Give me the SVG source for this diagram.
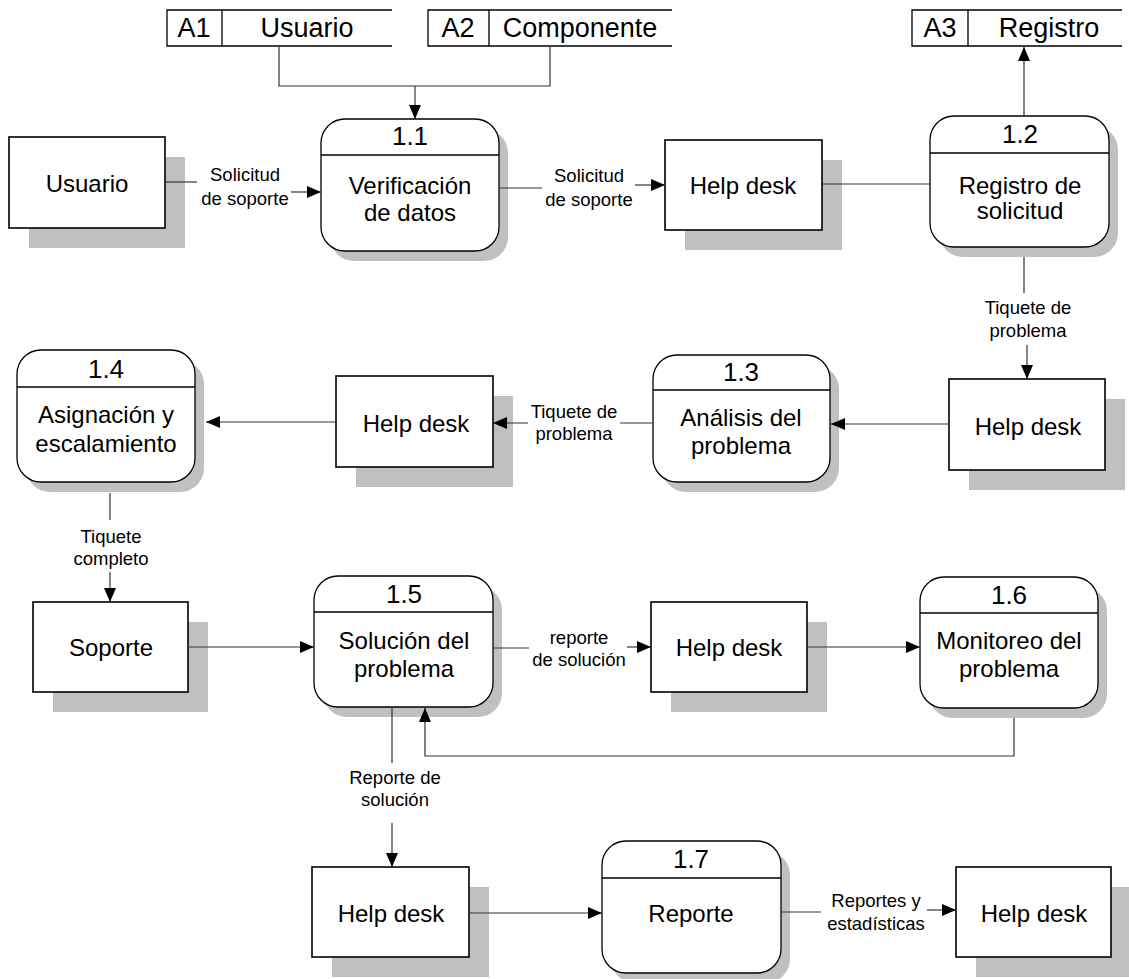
<svg xmlns="http://www.w3.org/2000/svg" width="1129" height="979" viewBox="0 0 1129 979">
<style>
.bg{fill:#ffffff}
.ent{fill:#ffffff;stroke:#000;stroke-width:1.6}
.sh{fill:#c0c0c0}
.proc{fill:#ffffff;stroke:#000;stroke-width:1.3}
.div{stroke:#000;stroke-width:1.3}
.st{fill:none;stroke:#000;stroke-width:1.3}
.t{font-family:"Liberation Sans",Arial,sans-serif;font-size:24px;fill:#000;text-anchor:middle;dominant-baseline:central}
.n{font-family:"Liberation Sans",Arial,sans-serif;font-size:26px;fill:#000;text-anchor:middle;dominant-baseline:central}
.s{font-family:"Liberation Sans",Arial,sans-serif;font-size:27px;fill:#000;text-anchor:middle;dominant-baseline:central}
.l{font-family:"Liberation Sans",Arial,sans-serif;font-size:18.5px;fill:#000;text-anchor:middle;dominant-baseline:central}
.c{fill:none;stroke:#333;stroke-width:1.2}
.a{marker-end:url(#arr)}
</style>
<defs>
<marker id="arr" markerUnits="userSpaceOnUse" markerWidth="14" markerHeight="12" refX="14" refY="6" orient="auto">
<path d="M0,0 L14,6 L0,12 z" fill="#000"/>
</marker>
</defs>
<rect class="bg" x="0" y="0" width="1129" height="979"/>

<g id="A1">
<path class="st" d="M392,10 H167 V46 H392 M222,10 V46"/>
<text class="s" x="194" y="28">A1</text>
<text class="s" x="307" y="28">Usuario</text>
</g>
<g id="A2">
<path class="st" d="M672,10 H428 V46 H672 M489,10 V46"/>
<text class="s" x="458" y="28">A2</text>
<text class="s" x="580" y="28">Componente</text>
</g>
<g id="A3">
<path class="st" d="M1122,10 H912 V46 H1122 M968,10 V46"/>
<text class="s" x="940" y="28">A3</text>
<text class="s" x="1049" y="28">Registro</text>
</g>

<g id="usuario">
<rect class="sh" x="29" y="157" width="156" height="91"/>
<rect class="ent" x="9" y="137" width="156" height="91"/>
<text class="t" x="87" y="183">Usuario</text>
</g>
<g id="p11">
<rect class="sh" x="330" y="129" width="178" height="132" rx="24"/>
<rect class="proc" x="321" y="119" width="178" height="132" rx="24"/>
<line class="div" x1="321" y1="155" x2="499" y2="155"/>
<text class="n" x="410" y="136">1.1</text>
<text class="t" x="410" y="185">Verificación</text>
<text class="t" x="410" y="212">de datos</text>
</g>
<g id="helpdesk1">
<rect class="sh" x="685" y="160" width="157" height="90"/>
<rect class="ent" x="665" y="140" width="157" height="90"/>
<text class="t" x="743" y="185">Help desk</text>
</g>
<g id="p12">
<rect class="sh" x="939" y="126" width="179" height="131" rx="24"/>
<rect class="proc" x="930" y="116" width="179" height="131" rx="24"/>
<line class="div" x1="930" y1="153" x2="1109" y2="153"/>
<text class="n" x="1020" y="134">1.2</text>
<text class="t" x="1020" y="185">Registro de</text>
<text class="t" x="1020" y="210">solicitud</text>
</g>
<g id="helpdesk2">
<rect class="sh" x="969" y="399" width="156" height="91"/>
<rect class="ent" x="949" y="379" width="156" height="91"/>
<text class="t" x="1028" y="426">Help desk</text>
</g>
<g id="p13">
<rect class="sh" x="662" y="365" width="177" height="127" rx="24"/>
<rect class="proc" x="653" y="355" width="177" height="127" rx="24"/>
<line class="div" x1="653" y1="390" x2="830" y2="390"/>
<text class="n" x="741" y="372">1.3</text>
<text class="t" x="741" y="417">Análisis del</text>
<text class="t" x="741" y="445">problema</text>
</g>
<g id="helpdesk3">
<rect class="sh" x="356" y="396" width="157" height="91"/>
<rect class="ent" x="336" y="376" width="157" height="91"/>
<text class="t" x="416" y="423">Help desk</text>
</g>
<g id="p14">
<rect class="sh" x="26" y="360" width="178" height="132" rx="24"/>
<rect class="proc" x="17" y="350" width="178" height="132" rx="24"/>
<line class="div" x1="17" y1="387" x2="195" y2="387"/>
<text class="n" x="106" y="369">1.4</text>
<text class="t" x="106" y="414">Asignación y</text>
<text class="t" x="106" y="443">escalamiento</text>
</g>
<g id="soporte">
<rect class="sh" x="53" y="622" width="155" height="90"/>
<rect class="ent" x="33" y="602" width="155" height="90"/>
<text class="t" x="111" y="647">Soporte</text>
</g>
<g id="p15">
<rect class="sh" x="323" y="586" width="179" height="131" rx="24"/>
<rect class="proc" x="314" y="576" width="179" height="131" rx="24"/>
<line class="div" x1="314" y1="612" x2="493" y2="612"/>
<text class="n" x="404" y="594">1.5</text>
<text class="t" x="404" y="640">Solución del</text>
<text class="t" x="404" y="668">problema</text>
</g>
<g id="helpdesk4">
<rect class="sh" x="671" y="622" width="156" height="90"/>
<rect class="ent" x="651" y="602" width="156" height="90"/>
<text class="t" x="729" y="647">Help desk</text>
</g>
<g id="p16">
<rect class="sh" x="929" y="587" width="178" height="131" rx="24"/>
<rect class="proc" x="920" y="577" width="178" height="131" rx="24"/>
<line class="div" x1="920" y1="613" x2="1098" y2="613"/>
<text class="n" x="1009" y="595">1.6</text>
<text class="t" x="1009" y="640">Monitoreo del</text>
<text class="t" x="1009" y="668">problema</text>
</g>
<g id="helpdesk5">
<rect class="sh" x="332" y="887" width="157" height="90"/>
<rect class="ent" x="312" y="867" width="157" height="90"/>
<text class="t" x="391" y="913">Help desk</text>
</g>
<g id="p17">
<rect class="sh" x="611" y="851" width="179" height="132" rx="24"/>
<rect class="proc" x="602" y="841" width="179" height="132" rx="24"/>
<line class="div" x1="602" y1="878" x2="781" y2="878"/>
<text class="n" x="691" y="859">1.7</text>
<text class="t" x="691" y="913">Reporte</text>
</g>
<g id="helpdesk6">
<rect class="sh" x="976" y="887" width="155" height="90"/>
<rect class="ent" x="956" y="867" width="155" height="90"/>
<text class="t" x="1034" y="913">Help desk</text>
</g>

<g id="connectors">
<path class="c" d="M279,46 V86 H550 V46"/>
<path class="c a" d="M415,86 V119"/>
<path class="c" d="M165,182 H197"/>
<path class="c a" d="M291,192 H321"/>
<text class="l" x="245" y="174">Solicitud</text>
<text class="l" x="245" y="198">de soporte</text>
<path class="c" d="M499,188 H542"/>
<path class="c a" d="M635,185 H665"/>
<text class="l" x="589" y="175">Solicitud</text>
<text class="l" x="589" y="199">de soporte</text>
<path class="c" d="M822,184 H930"/>
<path class="c a" d="M1024,116 V47"/>
<path class="c" d="M1024,257 V293"/>
<text class="l" x="1028" y="307">Tiquete de</text>
<text class="l" x="1028" y="330">problema</text>
<path class="c a" d="M1027,345 V379"/>
<path class="c a" d="M949,424 H831"/>
<path class="c" d="M653,423 H620"/>
<text class="l" x="574" y="411">Tiquete de</text>
<text class="l" x="574" y="433">problema</text>
<path class="c a" d="M528,423 H493"/>
<path class="c a" d="M336,422 H206"/>
<path class="c" d="M110,493 V520"/>
<text class="l" x="111" y="536">Tiquete</text>
<text class="l" x="111" y="558">completo</text>
<path class="c a" d="M110,572 V602"/>
<path class="c a" d="M188,647 H314"/>
<path class="c" d="M493,648 H529"/>
<text class="l" x="579" y="637">reporte</text>
<text class="l" x="579" y="659">de solución</text>
<path class="c a" d="M627,647 H651"/>
<path class="c a" d="M807,647 H920"/>
<path class="c a" d="M1014,718 V756 H425 V708"/>
<path class="c" d="M392,707 V763"/>
<text class="l" x="395" y="777">Reporte de</text>
<text class="l" x="395" y="799">solución</text>
<path class="c a" d="M392,823 V867"/>
<path class="c a" d="M469,913 H602"/>
<path class="c" d="M781,912 H821"/>
<text class="l" x="876" y="900">Reportes y</text>
<text class="l" x="876" y="923">estadísticas</text>
<path class="c a" d="M927,910 H956"/>
</g>
</svg>
